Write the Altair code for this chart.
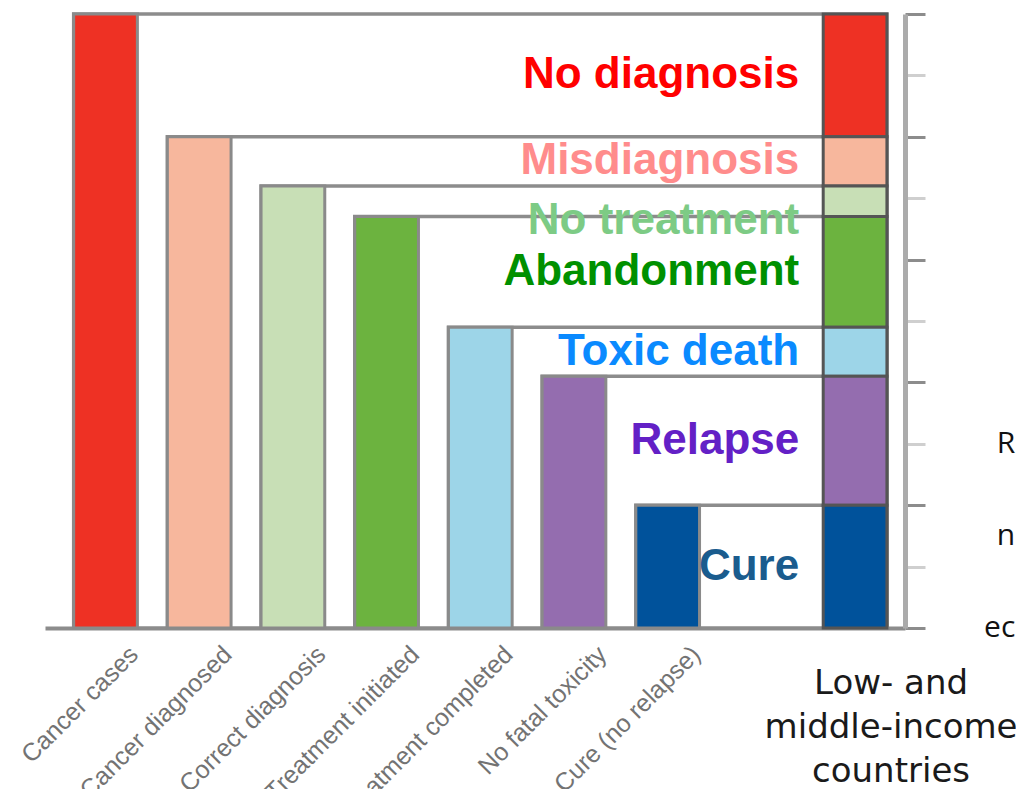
import json
import altair as alt
import pandas as pd

# ---- data -------------------------------------------------------------
categories = ["Cancer cases", "Cancer diagnosed", "Correct diagnosis",
              "Treatment initiated", "Treatment completed",
              "No fatal toxicity", "Cure (no relapse)"]
bar_values = [100, 80, 72, 67, 49, 41, 20]
bar_colors = ["#EE3124", "#F7B79D", "#C8DFB6", "#6CB33F",
              "#9DD5E8", "#946DAF", "#00529B"]

segments = ["No diagnosis", "Misdiagnosis", "No treatment", "Abandonment",
            "Toxic death", "Relapse", "Cure"]
segment_text_colors = ["#FF0000", "#FF8C8C", "#7DCB85", "#009000",
                       "#0A8AFF", "#6320C6", "#1A5C8E"]

group_label = "Low- and\nmiddle-income\ncountries"

fragments = ["R", "n", "ec"]
fragment_y = [30, 15, 0]
fragment_x = [9.71, 9.71, 9.71]

# ---- tables -----------------------------------------------------------
stack_idx = len(categories) + 1
half = 0.34

bars_df = pd.DataFrame({
    "idx": list(range(len(categories))),
    "cat": categories,
    "value": bar_values,
    "color": bar_colors,
})

lows = bar_values[1:] + [0]
seg_df = pd.DataFrame({
    "seg": segments,
    "lo": lows,
    "hi": bar_values,
    "color": bar_colors,
    "tcolor": segment_text_colors,
    "pos": [stack_idx] * len(segments),
})

group_df = pd.DataFrame({"t": [group_label], "x": [stack_idx], "y": [0]})
frag_df = pd.DataFrame({"t": fragments, "x": fragment_x, "y": fragment_y})

# ---- scales / axes ----------------------------------------------------
x_scale = alt.Scale(domain=[-0.646, 8.533], nice=False, zero=False)
y_scale = alt.Scale(domain=[0, 100], nice=False)

label_expr = json.dumps(categories) + "[datum.value]"
xaxis = alt.Axis(values=list(range(len(categories))), labelExpr=label_expr,
                 title=None, grid=False, ticks=False, tickSize=0,
                 domainColor="#8c8c8c", domainWidth=4,
                 labelAngle=-45, labelAlign="right", labelBaseline="middle",
                 labelOffset=28, labelPadding=22, labelFontSize=25,
                 labelFont="Liberation Sans", labelColor="#737373",
                 labelLimit=0, labelOverlap=False, labelFlush=False)
yaxis = alt.Axis(orient="right", values=list(range(0, 101, 10)), labels=False,
                 title=None, grid=False, domainColor="#ababab", domainWidth=5,
                 tickSize=20, tickWidth=3,
                 tickColor={"condition": {"test": "datum.value % 20 === 0",
                                          "value": "#8c8c8c"},
                            "value": "#cfcfcf"})

# ---- layers -----------------------------------------------------------
base = alt.Chart(bars_df).transform_calculate(
    xl=f"datum.idx - {half}", xr=f"datum.idx + {half}",
    bxr=f"{stack_idx} + {half}")

boxes = base.mark_rect(fill="white", stroke="#8c8c8c", strokeWidth=3.5).encode(
    x=alt.X("xl:Q", scale=x_scale, axis=xaxis),
    x2="bxr:Q",
    y=alt.Y("value:Q", scale=y_scale, axis=yaxis),
    y2=alt.datum(0),
)

bars = base.mark_rect(stroke="#8a8a8a", strokeWidth=3).encode(
    x=alt.X("xl:Q", scale=x_scale, axis=xaxis),
    x2="xr:Q",
    y=alt.Y("value:Q", scale=y_scale, axis=yaxis),
    y2=alt.datum(0),
    fill=alt.Fill("color:N", scale=None),
)

seg_base = alt.Chart(seg_df).transform_calculate(
    sl=f"datum.pos - {half}", sr=f"datum.pos + {half}",
    ly="datum.seg === 'No treatment' ? datum.lo - 0.7 : (datum.lo + datum.hi) / 2")

stack = seg_base.mark_rect(stroke="#555555", strokeWidth=3).encode(
    x=alt.X("sl:Q", scale=x_scale, axis=xaxis),
    x2="sr:Q",
    y=alt.Y("hi:Q", scale=y_scale, axis=yaxis),
    y2="lo:Q",
    fill=alt.Fill("color:N", scale=None),
)

seg_labels = seg_base.mark_text(align="right", baseline="middle",
                                font="Liberation Sans", fontWeight="bold",
                                fontSize=44, dx=-24).encode(
    x=alt.X("sl:Q", scale=x_scale, axis=xaxis),
    y=alt.Y("ly:Q", scale=y_scale, axis=yaxis),
    text="seg:N",
    color=alt.Color("tcolor:N", scale=None),
)

group = alt.Chart(group_df).mark_text(
    lineBreak="\n", align="center", baseline="top", dx=36, dy=39,
    fontSize=34, font="DejaVu Sans", color="#1a1a1a", lineHeight=44).encode(
    x=alt.X("x:Q", scale=x_scale, axis=xaxis),
    y=alt.Y("y:Q", scale=y_scale, axis=yaxis),
    text="t:N",
)

frags = alt.Chart(frag_df).mark_text(
    align="right", baseline="middle", fontSize=30, font="Open Sans",
    color="#111111").encode(
    x=alt.X("x:Q", scale=x_scale, axis=xaxis),
    y=alt.Y("y:Q", scale=y_scale, axis=yaxis),
    text="t:N",
)

chart = alt.layer(boxes, bars, stack, seg_labels, group, frags).properties(
    width=860, height=614,
    autosize=alt.AutoSizeParams(type="none"),
    padding={"left": 37, "top": 6, "right": 111, "bottom": 161},
).configure_view(stroke=None)

chart.save("out.html", embed_options={"renderer": "svg", "actions": False})
